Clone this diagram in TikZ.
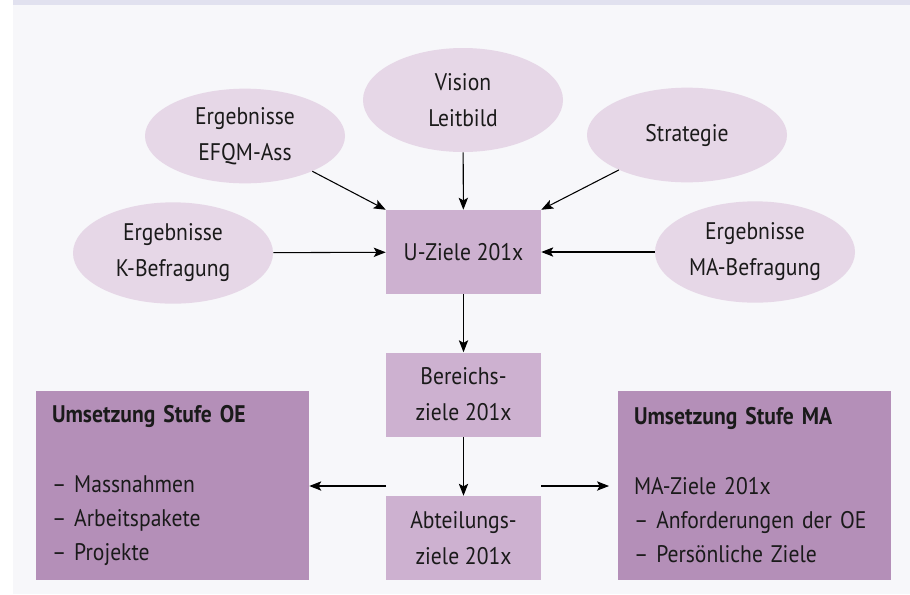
\documentclass[tikz,border=0pt]{standalone}
\usepackage{fontspec}
\setmainfont{PT Sans}[FakeStretch=0.9]
\usetikzlibrary{shapes.geometric,arrows.meta,positioning}

\definecolor{bgGrey}{HTML}{F7F7FA}
\definecolor{headBand}{HTML}{E1E1EF}
\definecolor{ovalLilac}{HTML}{E6D7E7}
\definecolor{zielLilac}{HTML}{CDB1D0}
\definecolor{stufeLilac}{HTML}{B48FB8}
\definecolor{inkDark}{HTML}{1A1A1A}

\begin{document}
\begin{tikzpicture}[x=0.75pt,y=-0.75pt,
	every node/.style={text=inkDark, font=\fontsize{18}{27}\selectfont},
	oval/.style={ellipse, fill=ovalLilac, minimum width=150pt, minimum height=76pt, inner sep=0pt, align=center},
	zielbox/.style={fill=zielLilac, minimum width=116.25pt, minimum height=63pt, inner sep=0pt, align=center},
	stufebox/.style={fill=stufeLilac, minimum width=204.75pt, minimum height=141.75pt, text width=180.75pt, inner xsep=12pt, align=left, font=\fontsize{18}{25.5}\selectfont},
	pfeil/.style={-{Stealth[length=9pt,width=7pt,inset=2pt]}, line width=0.8pt, draw=black}]

	\useasboundingbox (0,0) rectangle (910,594);
	\fill[bgGrey] (13,5) rectangle (910,594);
	\fill[headBand] (13,0) rectangle (910,5);

	% Quellen
	\node[oval, minimum height=78pt] (vision) at (463,100) {Vision\\Leitbild};
	\node[oval, minimum height=71pt] (efqm) at (245,136) {Ergebnisse\\EFQM-Ass};
	\node[oval, minimum height=71pt] (strategie) at (687,135) {Strategie};
	\node[oval] (kbef) at (173,253) {Ergebnisse\\K-Befragung};
	\node[oval] (mabef) at (755,252) {Ergebnisse\\MA-Befragung};

	% Zielkaskade
	\node[zielbox] (uziele) at (463.5,252) {U-Ziele 201x};
	\node[zielbox] (bereich) at (463.5,394.5) {Bereichs-\\ziele 201x};
	\node[zielbox] (abteilung) at (463.5,538) {Abteilungs-\\ziele 201x};

	\node[stufebox] (stufeoe) at (172.5,485.5) {{\bfseries Umsetzung Stufe OE}\\[27pt]
		– Massnahmen\\– Arbeitspakete\\– Projekte};
	\node[stufebox] (stufema) at (754.5,485.5) {{\bfseries Umsetzung Stufe MA}\\[27pt]
		MA-Ziele 201x\\– Anforderungen der OE\\– Persönliche Ziele};

	\coordinate (abzweigl) at (386,486);
	\coordinate (abzweigr) at (541,486);
	\coordinate (zielma) at (609,486);

	\draw[pfeil] (vision) -- (uziele);
	\draw[pfeil] (efqm) -- (uziele.north west);
	\draw[pfeil] (strategie) -- (uziele.north east);
	\draw[pfeil] (kbef) -- (uziele);
	\draw[pfeil] (mabef) -- (uziele);
	\draw[pfeil] (uziele) -- (bereich);
	\draw[pfeil] (bereich) -- (abteilung);
	\draw[pfeil] (abzweigl) -- (stufeoe.east |- abzweigl);
	\draw[pfeil] (abzweigr) -- (zielma);

\end{tikzpicture}
\end{document}
